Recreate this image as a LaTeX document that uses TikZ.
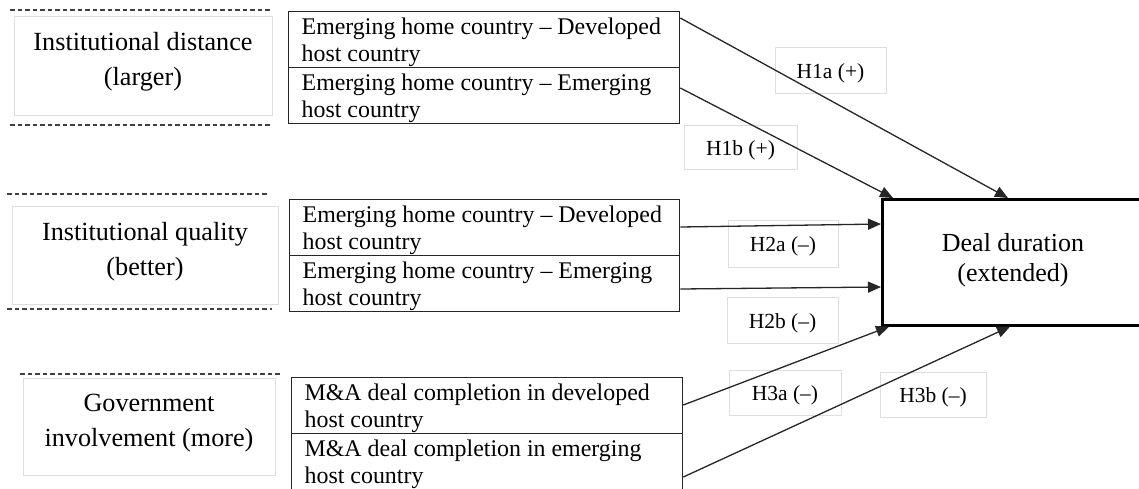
\documentclass[tikz,border=0pt]{standalone}
\usepackage{fontspec}
\setmainfont{Liberation Serif}
\usetikzlibrary{arrows.meta,calc}
\newcommand{\topstrut}{\rule{0pt}{21.5pt}}
\begin{document}
\begin{tikzpicture}[x=1pt,y=-1pt,
 frame/.style={draw=black!13, line width=0.8pt, inner sep=0pt},
 lbltext/.style={inner sep=0pt, align=center, font=\fontsize{26.2}{35}\selectfont},
 cell/.style={draw=black!85, line width=1.3pt, anchor=north west, minimum height=56pt, text width=#1, inner xsep=13pt, inner ysep=0pt, align=flush left, font=\fontsize{23.9}{26.5}\selectfont},
 hyp/.style={draw=black!13, line width=0.8pt, inner sep=0pt, text height=20pt, text depth=4pt, font=\fontsize{21.5}{24}\selectfont},
 dsh/.style={draw=black!75, line width=1.3pt, dash pattern=on 4.5pt off 3pt},
 conn/.style={draw=black!85, line width=1.3pt, -{Triangle[length=13pt,width=11pt]}}
]
\useasboundingbox (0,0) rectangle (1139,488);
\fill[white] (0,0) rectangle (1139,488);

% left construct boxes
\node[frame, minimum width=258pt, minimum height=99pt] (f1) at (143,65.5) {};
\node[lbltext] (t1) at (143,62) {Institutional distance\\(larger)};
\node[frame, minimum width=266pt, minimum height=98pt] (f2) at (145,255) {};
\node[lbltext] (t2) at (145,252) {Institutional quality\\(better)};
\node[frame, minimum width=252pt, minimum height=97pt] (f3) at (149,426.5) {};
\node[lbltext] (t3) at (149,423) {Government\\involvement (more)};

% dashed lines
\draw[dsh] (10,10) -- (270,10);
\draw[dsh] (10,125) -- (270,125);
\draw[dsh] (7,194) -- (267,194);
\draw[dsh] (7,309) -- (272,309);
\draw[dsh] (20,374) -- (280,374);

% middle cells
\node[cell=365pt] (c11) at (288,11) {\topstrut Emerging home country -- Developed\\host country};
\node[cell=365pt] (c12) at (288,67) {\topstrut Emerging home country -- Emerging\\host country};
\node[cell=364pt] (c21) at (289,199) {\topstrut Emerging home country -- Developed\\host country};
\node[cell=364pt] (c22) at (289,255) {\topstrut Emerging home country -- Emerging\\host country};
\node[cell=365pt] (c31) at (291,377) {\topstrut M\&A deal completion in developed\\host country};
\node[cell=365pt] (c32) at (291,433) {\topstrut M\&A deal completion in emerging\\host country};

% outcome
\node[draw=black, line width=2.6pt, anchor=north west, minimum width=268pt, minimum height=126pt, inner sep=0pt] (deal) at (881,198) {};
\node[inner sep=0pt, align=center, font=\fontsize{26}{30}\selectfont] (dealt) at (1013,260) {Deal duration\\(extended)};

% hypothesis labels
\node[hyp, minimum width=111pt, minimum height=46pt] (h1a) at (830.5,70) {H1a (+)};
\node[hyp, minimum width=113pt, minimum height=44pt] (h1b) at (740.5,147) {H1b (+)};
\node[hyp, minimum width=110pt, minimum height=47pt] (h2a) at (783,243.5) {H2a (--)};
\node[hyp, minimum width=111pt, minimum height=46pt] (h2b) at (782.5,320) {H2b (--)};
\node[hyp, minimum width=112pt, minimum height=45pt] (h3a) at (785,392.5) {H3a (--)};
\node[hyp, minimum width=106pt, minimum height=45pt] (h3b) at (933,394.5) {H3b (--)};

% connectors
\draw[conn] ($(c11.north east)+(0,7)$) -- ($(deal.north west)+(127,0)$);
\draw[conn] ($(c12.north east)+(0,21)$) -- ($(deal.north west)+(12,0)$);
\draw[conn] ($(c21.north east)+(0,28)$) -- ($(deal.north west)+(0,26)$);
\draw[conn] ($(c22.north east)+(0,34)$) -- ($(deal.north west)+(0,89)$);
\draw[conn] ($(c31.north east)+(0,28)$) -- ($(deal.south west)+(8,0)$);
\draw[conn] ($(c32.north east)+(0,44)$) -- ($(deal.south west)+(129,0)$);
\end{tikzpicture}
\end{document}
